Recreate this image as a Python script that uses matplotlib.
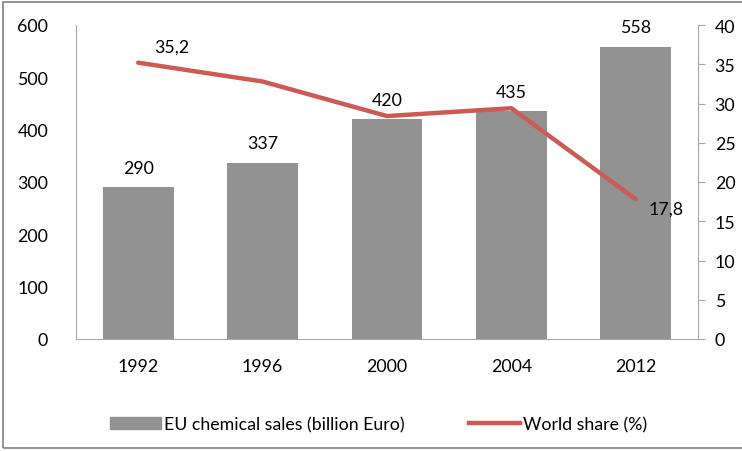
import matplotlib
matplotlib.use('Agg')
import matplotlib.pyplot as plt
from matplotlib.patches import Rectangle
from matplotlib.lines import Line2D
from matplotlib.patches import Patch

years = ['1992', '1996', '2000', '2004', '2012']
sales = [290, 337, 420, 435, 558]
share = [35.2, 32.8, 28.4, 29.4, 17.8]
sales_labels = ['290', '337', '420', '435', '558']
share_labels = {0: '35,2', 4: '17,8'}

plt.rcParams['font.family'] = ['Lato', 'DejaVu Sans']
plt.rcParams['font.size'] = 12.8

bar_color = '#929292'
line_color = '#CD5B55'
axis_color = '#A6A6A6'

fig = plt.figure(figsize=(7.42, 4.52), dpi=100)
ax = fig.add_axes([76/742, 1 - 340/452, (698-76)/742, (340-26)/452])
x = range(len(years))
ax.bar(x, sales, width=0.57, color=bar_color, zorder=2)
ax.set_xlim(-0.5, len(years) - 0.5)
ax.set_ylim(0, 600)
ax.set_yticks(range(0, 601, 100))
ax.set_xticks(list(x))
ax.set_xticklabels(years)
ax.tick_params(axis='y', length=0, pad=20)
ax.tick_params(axis='x', length=0, pad=14)
for s in ['top', 'right']:
    ax.spines[s].set_visible(False)
for s in ['left', 'bottom']:
    ax.spines[s].set_color(axis_color)
for i, v in enumerate(sales):
    ax.text(i, v + 22, sales_labels[i], ha='center', va='bottom')

ax2 = ax.twinx()
ax2.plot(x, share, color=line_color, lw=3.2, zorder=3, solid_capstyle='round')
ax2.set_ylim(0, 40)
ax2.set_yticks(range(0, 41, 5))
ax2.tick_params(axis='y', length=5, color=axis_color, pad=7)
for s in ['top', 'left', 'bottom']:
    ax2.spines[s].set_visible(False)
ax2.spines['right'].set_color(axis_color)
ax2.text(0.13, share[0] + 1.0, share_labels[0], ha='left', va='bottom')
ax2.text(4.1, share[4] - 1.2, share_labels[4], ha='left', va='center')

handles = [Patch(color=bar_color), Line2D([0], [0], color=line_color, lw=3.2)]
fig.legend(handles, ['EU chemical sales (billion Euro)', 'World share (%)'],
           loc='center', bbox_to_anchor=(0.51, 1 - 425/452), ncol=2, frameon=False,
           handlelength=2.9, handletextpad=0.15, columnspacing=3.6)

fig.patches.append(Rectangle((3/742, 3/452), 1.2, 1 - 6/452, transform=fig.transFigure,
                             fill=False, edgecolor='#808080', lw=1.2))

fig.savefig('out.png', dpi=100)
